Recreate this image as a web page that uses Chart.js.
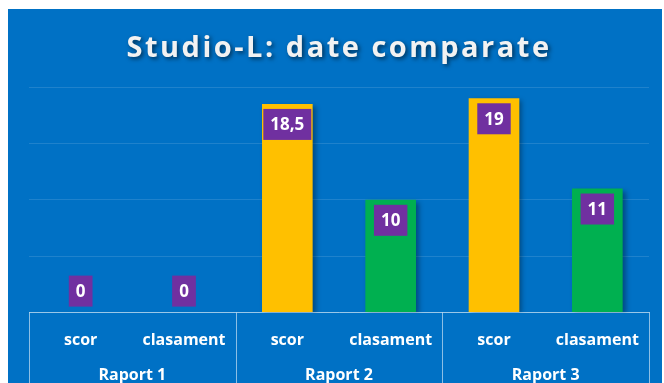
<!DOCTYPE html>
<html>
<head>
<meta charset="utf-8">
<script src="https://cdn.jsdelivr.net/npm/chart.js@4"></script>
<style>
  html, body { margin: 0; padding: 0; background: #fff; }
  #wrap { position: absolute; left: 8px; top: 9px; width: 654px; height: 374px; background: #0071c5; }
</style>
</head>
<body>
<div id="wrap"><canvas id="grafic" width="654" height="374"></canvas></div>
<script>
const titlu = "Studio-L: date comparate";
const categorii = ["scor", "clasament", "scor", "clasament", "scor", "clasament"];
const rapoarte = ["Raport 1", "Raport 2", "Raport 3"];
const valori = [0, 0, 18.5, 10, 19, 11];
const yMax = 20;
const yPas = 5;

const galben = "#ffc000";
const verde = "#00b050";
const mov = "#7030a0";
const liniiTabel = "rgba(255,255,255,0.55)";
const FONT = "'Open Sans', sans-serif";

// umbra sub bare
const umbraBare = {
  id: "umbraBare",
  beforeDatasetsDraw(chart) {
    const ctx = chart.ctx;
    ctx.save();
    ctx.shadowColor = "rgba(0,0,0,0.35)";
    ctx.shadowBlur = 5;
    ctx.shadowOffsetX = 3;
    ctx.shadowOffsetY = 2;
  },
  afterDatasetsDraw(chart) {
    chart.ctx.restore();
  }
};

// etichete cu valori in casute mov
const etichete = {
  id: "etichete",
  afterDatasetsDraw(chart) {
    const ctx = chart.ctx;
    const meta = chart.getDatasetMeta(0);
    ctx.save();
    ctx.font = "bold 17px " + FONT;
    ctx.textAlign = "center";
    ctx.textBaseline = "middle";
    meta.data.forEach((bar, i) => {
      const text = String(valori[i]).replace(".", ",");
      const w = ctx.measureText(text).width + 14;
      const h = 31;
      let top = bar.y + 5;
      if (bar.base - bar.y < h + 10) top = bar.base - 6 - h;
      ctx.fillStyle = mov;
      ctx.fillRect(bar.x - w / 2, top, w, h);
      ctx.fillStyle = "#fff";
      ctx.fillText(text, bar.x, top + h / 2 + 1);
    });
    ctx.restore();
  }
};

// titlu cu umbra + liniile tabelului de sub axa
const decor = {
  id: "decor",
  afterDraw(chart) {
    const ctx = chart.ctx;
    const area = chart.chartArea;
    const x = chart.scales.x;
    ctx.save();
    ctx.strokeStyle = liniiTabel;
    ctx.lineWidth = 1;
    for (let i = 0; i <= rapoarte.length; i++) {
      const px = Math.round(x.getPixelForDecimal(i / rapoarte.length)) + 0.5;
      ctx.beginPath();
      ctx.moveTo(px, area.bottom);
      ctx.lineTo(px, chart.height);
      ctx.stroke();
    }
    ctx.font = "bold 29px " + FONT;
    ctx.letterSpacing = "2.5px";
    ctx.textAlign = "center";
    ctx.textBaseline = "alphabetic";
    ctx.shadowColor = "rgba(0,0,0,0.55)";
    ctx.shadowBlur = 4;
    ctx.shadowOffsetX = 2;
    ctx.shadowOffsetY = 2;
    ctx.fillStyle = "#f2f2f2";
    ctx.fillText(titlu, (area.left + area.right) / 2, 48);
    ctx.restore();
  }
};

new Chart(document.getElementById("grafic"), {
  type: "bar",
  data: {
    labels: categorii,
    datasets: [{
      data: valori,
      backgroundColor: (c) => categorii[c.dataIndex] === "scor" ? galben : verde,
      categoryPercentage: 1,
      barPercentage: 0.49
    }]
  },
  options: {
    responsive: false,
    animation: false,
    layout: { padding: { left: 21, right: 13, top: 78, bottom: 0 } },
    plugins: { legend: { display: false }, tooltip: { enabled: false }, title: { display: false } },
    scales: {
      y: {
        min: 0,
        max: yMax,
        ticks: { display: false, stepSize: yPas },
        grid: { color: "rgba(255,255,255,0.12)", drawTicks: false },
        border: { display: false }
      },
      x: {
        grid: { display: false, drawTicks: false },
        border: { color: liniiTabel, width: 1 },
        ticks: { color: "#fff", font: { family: FONT, size: 16, weight: "bold" }, padding: 18 }
      },
      x2: {
        type: "category",
        labels: rapoarte,
        position: "bottom",
        offset: true,
        grid: { display: false, drawTicks: false },
        border: { display: false },
        ticks: { color: "#fff", font: { family: FONT, size: 16, weight: "bold" }, padding: -2 }
      }
    }
  },
  plugins: [umbraBare, etichete, decor]
});
</script>
</body>
</html>
